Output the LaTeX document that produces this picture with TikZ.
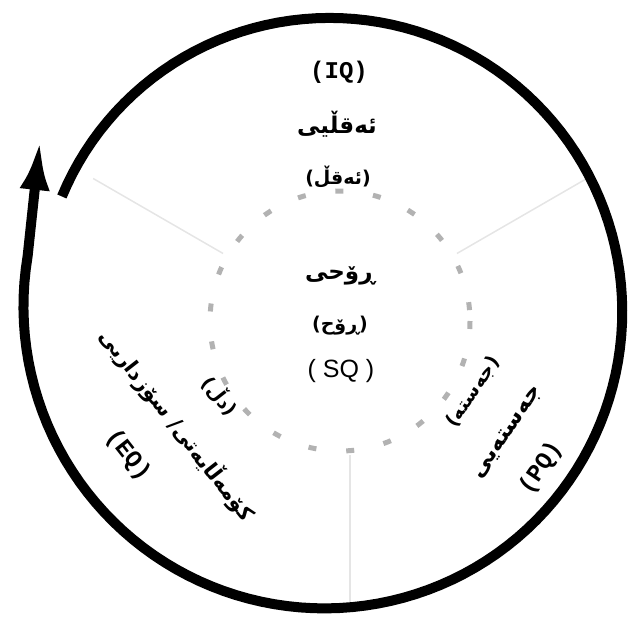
\documentclass[tikz,border=0pt]{standalone}
\usepackage{fontspec}
\usepackage{tikz}
\usetikzlibrary{arrows.meta}
\TeXXeTstate=1
\newfontfamily\kufont[Script=Arabic]{DejaVu Sans}
\newfontfamily\qfont{Liberation Mono}
\newfontfamily\latinsans{Liberation Sans}

\begin{document}
\begin{tikzpicture}[x=1pt,y=-1pt,
  ring/.style={line width=10pt,-{Latex[length=50pt,width=30pt]}},
  inner/.style={draw=black!30,line width=5pt,dash pattern=on 8pt off 30pt},
  sep/.style={draw=black!10,line width=1.5pt},
  ku/.style={font=\kufont\bfseries\fontsize{23}{26}\selectfont},
  kus/.style={font=\kufont\bfseries\fontsize{19}{22}\selectfont},
  qt/.style={font=\qfont\bfseries\fontsize{24}{28}\selectfont}]
\useasboundingbox (0,0) rectangle (631,621);
% dividers
\draw[sep] (340,321) ++(-30:135) -- ++(-30:150);
\draw[sep] (340,321) ++(-150:135) -- ++(-150:150);
\draw[sep] (350,455) -- (350,602);
\draw[inner] (340,321) circle[radius=130];
% outer loop
\coordinate (tip) at (40,140);
\draw[ring] plot[domain=157:-190,samples=140]
  ({327+(288+(157-\x)*16/347)*cos(\x)},{309-(288+(157-\x)*16/347)*sin(\x)}) -- (tip);
% top
\node[qt] (iq) at (339,72) {(IQ)};
\node[ku] (aqli) at (337,124) {\beginR ئەقڵیی\endR};
\node[kus] (aql) at (338,177) {\beginR (ئەقڵ)\endR};
% centre
\node[ku] (ruhi) at (340,276) {\beginR ڕۆحی\endR};
\node[kus] (ruh) at (340,326) {\beginR (ڕۆح)\endR};
\node[font=\latinsans\fontsize{25}{28}\selectfont] (sq) at (341,371) {( SQ )};
% left
\node[kus,rotate=-52] (dil) at (220,396) {\beginR (دڵ)\endR};
\node[ku,rotate=-52,font=\kufont\bfseries\fontsize{21}{24}\selectfont] (sozi) at (177,425)
  {\beginR کۆمەڵایەتی/ سۆزداریی\endR};
\node[qt,rotate=-52] (eq) at (128,455) {(EQ)};
% right
\node[kus,rotate=56] (jasta) at (473,392) {\beginR (جەستە)\endR};
\node[ku,rotate=56] (jastai) at (508,433) {\beginR جەستەیی\endR};
\node[qt,rotate=56] (pq) at (541,468) {(PQ)};
\end{tikzpicture}
\end{document}
